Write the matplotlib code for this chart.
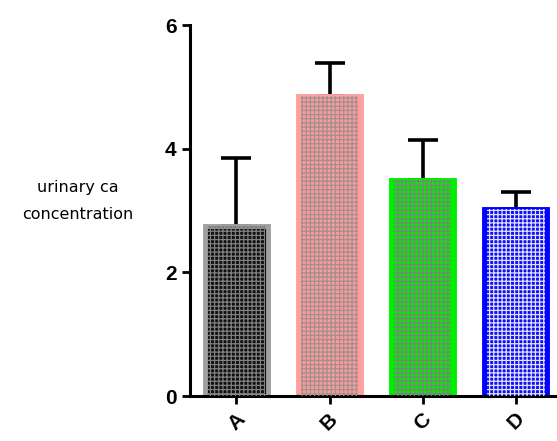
import matplotlib.pyplot as plt
import numpy as np

categories = ["A", "B", "C", "D"]
means = [2.75, 4.85, 3.5, 3.03]
errors = [1.1, 0.54, 0.64, 0.27]
face_colors = ["#101010", "#ff9a9a", "#00ee00", "#1010f0"]
edge_colors = ["#a0a0a0", "#ffa0a0", "#00ee00", "#0000ff"]
hatch_colors = ["#808080", "#a09090", "#808080", "#e0e0ff"]

plt.rcParams['font.family'] = ['Liberation Sans', 'DejaVu Sans']
plt.rcParams['hatch.linewidth'] = 0.9

fig = plt.figure(figsize=(5.57, 4.41), dpi=100)
ax = fig.add_axes([0.341, 0.102, 0.66, 0.841])

x = np.arange(len(categories))
width = 0.68
ax.bar(x, means, width=width, color=face_colors, edgecolor=edge_colors,
       linewidth=3.5, zorder=2)
# checkered texture inside the bars
for xi, m, hc in zip(x, means, hatch_colors):
    ax.bar(xi, m, width=width - 0.06, color="none", edgecolor=hc,
           hatch="++++", linewidth=0, zorder=3)
ax.errorbar(x, means, yerr=[np.zeros(len(means)), errors], fmt="none",
            ecolor="black", elinewidth=2.6, capsize=11, capthick=2.6, zorder=1)

ax.set_xlim(-0.5, 3.45)
ax.set_ylim(0, 6)
ax.set_yticks([0, 2, 4, 6])
ax.set_xticks(x)
ax.set_xticklabels(categories, rotation=45, ha="center", fontweight="bold", fontsize=15)
ax.tick_params(axis="y", labelsize=15, width=2, length=6, direction="out")
ax.tick_params(axis="x", width=2, length=6, direction="out")
for lbl in ax.get_yticklabels():
    lbl.set_fontweight("bold")
for side in ["top", "right"]:
    ax.spines[side].set_visible(False)
for side in ["left", "bottom"]:
    ax.spines[side].set_linewidth(2.2)

fig.text(0.14, 0.545, "urinary ca\nconcentration", ha="center", va="center",
         fontsize=11.5, linespacing=2.0, family="DejaVu Sans")

fig.savefig("out.png", dpi=100)
